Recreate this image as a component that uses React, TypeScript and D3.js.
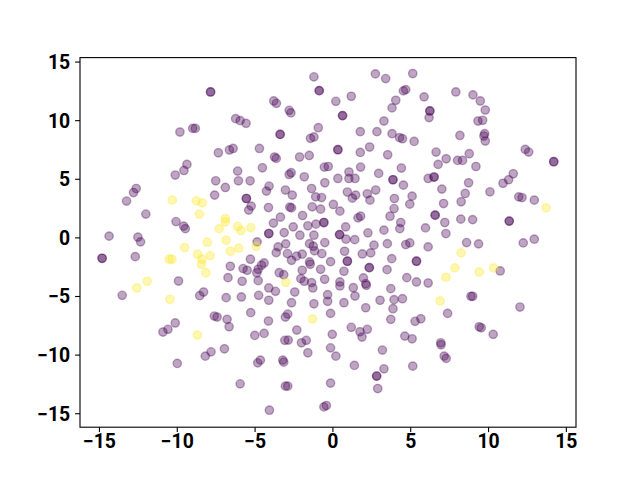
import React from "react";
import * as d3 from "d3";

// cluster points (class 0 = purple, class 1 = yellow)
const purplePts: [number, number][] = [
  [-9.83,9.03],[-9.01,9.34],[-8.84,9.34],[-9.38,6.27],[-9.57,5.75],[-10.13,5.36],
  [-1.22,13.74],[-7.86,12.45],[-7.86,12.45],[-0.88,12.56],[-0.88,12.56],[-3.80,11.68],[-3.63,11.48],[-2.81,10.88],[-2.70,10.66],[-6.25,10.17],[-5.96,10.00],[-5.58,9.77],[-0.94,9.40],[-3.39,8.83],[-3.39,8.83],[-1.44,8.49],[-1.22,8.61],[-7.36,7.26],[-6.65,7.50],[-6.41,7.63],[-4.72,7.63],[-3.75,6.90],[-3.64,6.78],[-2.14,6.90],[-1.52,7.03],[-4.53,5.98],[-6.12,5.70],[-0.55,6.04],[-0.30,6.09],[-2.81,5.41],[-2.68,5.56],[-1.84,5.21],
  [2.73,13.99],[3.39,13.59],[5.13,14.02],[1.18,12.08],[0.19,11.65],[4.53,12.54],[4.68,12.65],[4.04,11.74],[5.86,12.03],[7.90,12.45],[3.80,11.09],[0.62,10.43],[0.62,10.43],[6.23,10.83],[6.23,10.83],[6.18,10.26],[3.28,9.97],[1.76,9.06],[2.83,9.06],[3.80,8.89],[4.28,8.55],[4.47,8.46],[5.22,8.23],[0.32,7.52],[0.32,7.52],[2.36,7.75],[1.76,7.29],[3.52,7.09],[1.78,6.04],[1.03,5.62],[2.94,5.50],[4.40,5.96],[6.63,7.32],[7.28,6.75],[6.76,6.27],
  [0.32,5.07],[1.03,5.07],[1.42,5.07],[3.86,4.96],[3.86,4.96],[6.12,5.07],[6.50,5.19],[6.50,5.19],
  [9.00,12.20],[9.47,11.68],[9.79,10.91],[9.32,9.97],[9.62,10.03],[8.16,8.74],[9.75,8.89],[9.70,8.69],[9.79,8.26],[12.36,7.55],[12.58,7.32],[14.19,6.50],[14.19,6.50],[8.76,7.18],[8.01,6.61],[8.33,6.61],[9.19,6.09],[11.59,5.47],[11.29,4.96],[10.93,4.66],[8.72,4.70],
  [-12.64,4.21],[-12.81,3.87],[-13.26,3.14],[-12.02,2.03],[-10.08,1.39],[-9.59,1.00],[-9.48,0.79],[-14.38,0.15],[-12.53,0.06],[-12.36,-0.34],[-14.83,-1.74],[-14.83,-1.74],[-12.70,-1.60],[-9.92,-3.68],[-13.54,-4.90],[-8.56,-4.93],[-8.31,-4.62],
  [-7.53,4.87],[-6.07,4.87],[-5.32,4.87],[-6.91,4.30],[-4.10,4.42],[-4.27,3.99],[-3.05,4.08],[-2.61,3.65],[-1.37,4.21],[-0.52,4.70],[-7.60,3.65],[-5.56,3.36],[-5.56,3.36],[-5.25,2.71],[-5.41,2.37],[-4.14,2.59],[-2.77,2.62],[-2.66,2.56],[-1.33,2.65],[-0.79,2.45],[-0.73,3.44],[-1.11,3.50],[-1.95,1.91],[-3.37,1.77],[-3.82,1.26],[-2.55,0.94],[-1.61,1.03],[-1.09,1.17],[-0.58,1.31],[-0.58,1.31],[-4.12,0.37],[-4.12,0.37],[-3.13,0.45],[-2.12,0.23],[-1.22,0.23],[-4.87,-0.34],[-3.03,-0.51],[-3.52,-0.77],[-1.50,-0.49],[-1.26,-0.71],[-0.52,-0.40],[-3.64,-1.26],[-2.92,-1.34],[-2.34,-1.56],[-1.97,-1.39],[-1.18,-1.11],[-0.71,-1.34],[-5.30,-1.82],[-2.66,-1.91],[-1.50,-2.05],[-1.46,-2.25],[-0.15,-2.03],[-6.59,-2.42],[-4.42,-2.14],[-4.59,-2.33],[-4.80,-2.68],[-4.89,-2.97],[-5.77,-2.62],[-5.51,-2.76],[-3.45,-2.97],[-3.16,-3.14],[-1.97,-2.76],[-0.79,-2.68],[-6.74,-3.39],[-5.83,-3.70],[-4.80,-3.65],[-2.06,-3.48],[-1.84,-3.70],[-1.37,-3.82],[-1.29,-4.27],[-0.53,-3.53],[-4.12,-4.27],[-2.45,-4.62],[-3.69,-4.56],[-4.77,-4.90],[-5.88,-5.04],[-6.86,-5.10],[-4.12,-5.32],[-2.66,-5.53],[-1.22,-5.62],[-0.34,-5.41],[-0.34,-4.85],
  [4.53,4.50],[7.00,4.16],[0.93,3.91],[1.46,3.65],[1.25,3.39],[2.21,3.76],[2.38,3.22],[2.75,4.08],[3.95,3.36],[5.09,3.56],[4.94,2.88],[0.03,2.85],[0.45,2.28],[3.93,2.50],[7.11,2.93],[1.61,1.71],[1.78,1.85],[3.67,1.85],[6.57,1.94],[6.57,1.94],[4.36,1.31],[4.30,0.79],[0.82,0.94],[7.19,1.31],[0.43,0.28],[0.43,0.28],[0.84,-0.11],[1.40,-0.15],[2.25,0.43],[3.28,0.66],[5.95,0.85],[7.26,0.37],[2.64,-0.62],[3.50,-0.49],[4.68,-0.57],[4.94,-0.43],[6.12,-0.77],[0.75,-1.14],[1.89,-1.37],[2.43,-1.28],[3.78,-1.77],[0.93,-1.99],[0.93,-1.99],[5.37,-1.99],[5.37,-1.99],[2.34,-2.54],[2.34,-2.54],[3.48,-2.71],[0.71,-2.85],[1.96,-3.42],[4.75,-3.39],[5.37,-3.76],[6.12,-3.85],[0.45,-3.76],[0.45,-4.10],[2.11,-3.91],[2.15,-4.04],[1.31,-4.25],[3.72,-4.33],[1.42,-4.96],[3.93,-5.27],[4.47,-5.19],[3.03,-5.32],[0.71,-5.53],
  [8.50,3.79],[8.24,3.08],[10.09,3.93],[11.94,3.50],[12.15,3.44],[12.94,3.22],[8.22,1.60],[8.98,1.56],[11.33,1.43],[11.33,1.43],[8.59,-0.40],[9.36,-0.51],[12.23,-0.43],[12.94,-0.11],[10.75,-2.82],[8.87,-4.98],[8.98,-4.98],[12.02,-5.90],
  [-10.92,-8.03],[-10.60,-7.80],[-10.13,-7.26],[-10.00,-10.71],
  [-7.62,-6.67],[-7.44,-6.75],[-6.80,-6.95],[-6.67,-7.58],[-5.28,-6.38],[-4.14,-7.09],[-5.02,-8.32],[-4.42,-8.15],[-3.05,-6.75],[-2.90,-6.50],[-0.15,-6.44],[-2.32,-7.86],[-3.09,-8.74],[-2.87,-8.72],[-2.02,-8.95],[-1.71,-8.74],[-1.61,-9.80],[-0.15,-9.38],[-7.83,-9.72],[-8.20,-10.09],[-6.97,-9.46],[-4.83,-10.66],[-4.66,-10.43],[-3.22,-10.43],[-3.16,-10.60],[-5.96,-12.45],[-3.05,-12.65],[-2.90,-12.65],[-0.15,-12.39],[-4.08,-14.70],[-0.58,-14.42],[-0.42,-14.30],
  [2.11,-5.96],[3.86,-6.04],[7.37,-6.44],[3.72,-6.95],[5.28,-7.12],[5.65,-6.90],[1.18,-7.63],[1.74,-8.01],[1.87,-8.46],[2.21,-7.80],[-0.04,-8.23],[4.62,-8.38],[5.09,-8.61],[6.93,-8.95],[6.95,-9.12],[0.19,-10.09],[3.18,-9.57],[7.15,-10.09],[7.28,-10.28],[1.38,-10.88],[3.28,-11.17],[5.13,-10.94],[2.81,-11.79],[2.81,-11.79],[2.88,-12.85],
  [9.40,-7.58],[9.53,-7.67],[10.30,-8.23],
];

const yellowPts: [number, number][] = [
  [-10.32,3.22],[-8.78,3.16],[-8.39,2.99],[-8.58,2.03],[-9.53,-0.83],[-8.07,-0.37],[-10.52,-1.82],[-10.34,-1.82],[-8.69,-1.39],[-8.41,-1.82],[-8.45,-2.25],[-8.16,-2.97],[-11.93,-3.70],[-12.60,-4.27],[-10.47,-5.24],
  [-6.91,1.65],[-6.91,1.37],[-7.30,0.79],[-6.12,0.97],[-5.90,0.62],[-5.28,0.88],[-6.86,-0.20],[-4.93,-0.71],[-6.05,-0.88],[-6.59,-1.14],[-7.88,-1.51],[-3.03,-3.79],
  [7.84,-2.56],[7.26,-3.36],[6.89,-5.38],[13.70,2.56],[8.24,-1.28],[9.40,-2.91],[10.33,-2.56],[-8.71,-8.29],[-1.31,-6.92],
];

const xTicks = [-15, -10, -5, 0, 5, 10, 15];
const yTicks = [-15, -10, -5, 0, 5, 10, 15];

const W = 640, H = 480;
const left = 80, right = 576, top = 57.6, bottom = 427.2;

export default function App() {
  const x = d3.scaleLinear().domain([-16.25, 15.62]).range([left, right]);
  const y = d3.scaleLinear().domain([-16.15, 15.38]).range([bottom, top]);
  const fmt = (v: number) => (v < 0 ? "\u2212" + Math.abs(v) : String(v));
  const font = { fontFamily: "Roboto, sans-serif", fontWeight: 700, fontSize: 19.4 };

  const dots = (pts: [number, number][], color: string, key: string) =>
    pts.map((p, i) => (
      <circle key={key + i} cx={x(p[0])} cy={y(p[1])} r={4.17}
        fill={color} fillOpacity={0.35} stroke={color} strokeOpacity={0.35} strokeWidth={1.39} />
    ));

  return (
    <svg width={W} height={H} style={{ position: "absolute", left: 0, top: 0, background: "#fff" }}>
      <rect x={0} y={0} width={W} height={H} fill="#fff" />
      {dots(purplePts, "#440154", "p")}
      {dots(yellowPts, "#fde725", "y")}
      <rect x={left} y={top} width={right - left} height={bottom - top} fill="none" stroke="#000" strokeWidth={1.1} />
      {xTicks.map(t => (
        <g key={"xt" + t}>
          <line x1={x(t)} x2={x(t)} y1={bottom} y2={bottom + 4.9} stroke="#000" strokeWidth={1.1} />
          <text x={x(t)} y={bottom + 21} textAnchor="middle" {...font}>{fmt(t)}</text>
        </g>
      ))}
      {yTicks.map(t => (
        <g key={"yt" + t}>
          <line x1={left - 4.9} x2={left} y1={y(t)} y2={y(t)} stroke="#000" strokeWidth={1.1} />
          <text x={left - 9.8} y={y(t) + 7} textAnchor="end" {...font}>{fmt(t)}</text>
        </g>
      ))}
    </svg>
  );
}
